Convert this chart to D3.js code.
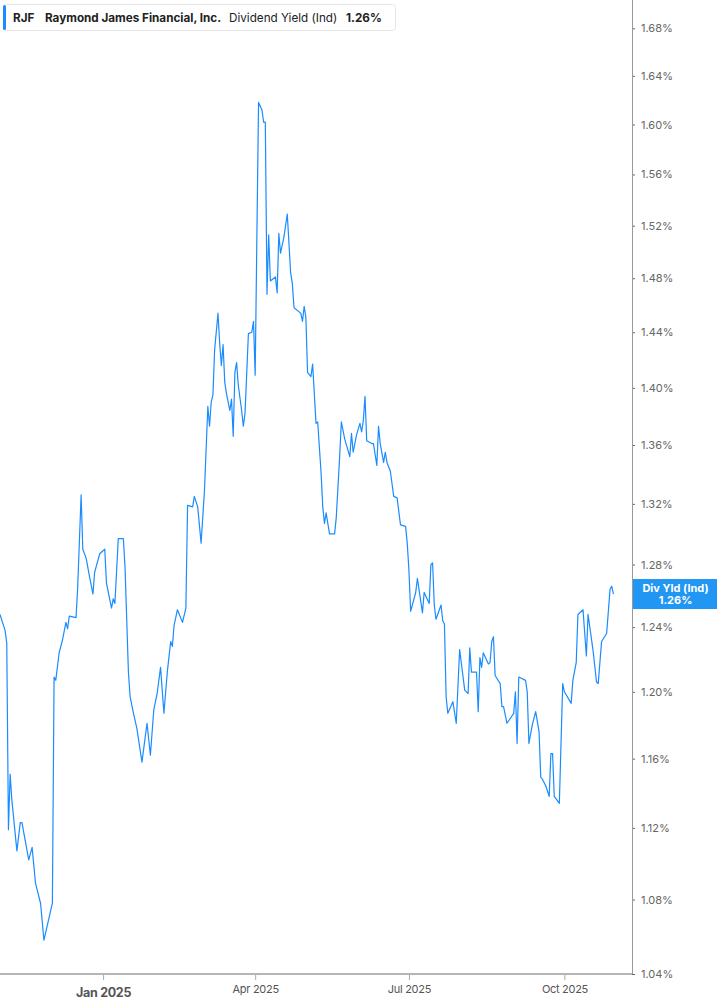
<!DOCTYPE html>
<html><head><meta charset="utf-8">
<script src="https://cdn.jsdelivr.net/npm/d3@7"></script>
<style>
body{margin:0;background:#fff;}
svg{display:block;font-family:Inter,"Noto Sans",sans-serif;}
</style>
</head><body>
<svg id="chart" width="717" height="1005"></svg>
<script>
const dates = [
"2024-11-01","2024-11-04","2024-11-05","2024-11-06","2024-11-07","2024-11-08","2024-11-11","2024-11-13","2024-11-14","2024-11-18",
"2024-11-20","2024-11-22","2024-11-25","2024-11-27","2024-12-02","2024-12-03","2024-12-04","2024-12-06","2024-12-08","2024-12-10",
"2024-12-11","2024-12-12","2024-12-16","2024-12-17","2024-12-19","2024-12-20","2024-12-22","2024-12-24","2024-12-26","2024-12-27",
"2024-12-30","2024-12-31","2025-01-02","2025-01-03","2025-01-06","2025-01-07","2025-01-08","2025-01-10","2025-01-13","2025-01-14",
"2025-01-16","2025-01-17","2025-01-19","2025-01-21","2025-01-24","2025-01-27","2025-01-29","2025-01-31","2025-02-02","2025-02-04",
"2025-02-06","2025-02-08","2025-02-10","2025-02-11","2025-02-12","2025-02-14","2025-02-17","2025-02-19","2025-02-20","2025-02-23",
"2025-02-24","2025-02-26","2025-02-28","2025-03-02","2025-03-04","2025-03-05","2025-03-06","2025-03-07","2025-03-08","2025-03-10",
"2025-03-11","2025-03-12","2025-03-13","2025-03-14","2025-03-15","2025-03-17","2025-03-18","2025-03-19","2025-03-20","2025-03-21",
"2025-03-22","2025-03-24","2025-03-25","2025-03-26","2025-03-28","2025-03-30","2025-03-31","2025-04-01","2025-04-03","2025-04-05",
"2025-04-06","2025-04-07","2025-04-08","2025-04-09","2025-04-10","2025-04-13","2025-04-14","2025-04-15","2025-04-16","2025-04-18",
"2025-04-20","2025-04-22","2025-04-23","2025-04-24","2025-04-27","2025-04-28","2025-04-29","2025-04-30","2025-05-01","2025-05-02",
"2025-05-04","2025-05-05","2025-05-07","2025-05-08","2025-05-10","2025-05-11","2025-05-12","2025-05-13","2025-05-15","2025-05-18",
"2025-05-19","2025-05-21","2025-05-22","2025-05-24","2025-05-27","2025-05-28","2025-05-29","2025-05-31","2025-06-02","2025-06-03",
"2025-06-04","2025-06-05","2025-06-06","2025-06-09","2025-06-10","2025-06-12","2025-06-13","2025-06-14","2025-06-16","2025-06-17",
"2025-06-18","2025-06-20","2025-06-22","2025-06-24","2025-06-26","2025-06-29","2025-06-30","2025-07-01","2025-07-02","2025-07-05",
"2025-07-06","2025-07-09","2025-07-10","2025-07-13","2025-07-14","2025-07-15","2025-07-16","2025-07-17","2025-07-20","2025-07-21",
"2025-07-22","2025-07-23","2025-07-24","2025-07-27","2025-07-29","2025-07-31","2025-08-03","2025-08-05","2025-08-06","2025-08-07",
"2025-08-10","2025-08-11","2025-08-12","2025-08-13","2025-08-14","2025-08-17","2025-08-18","2025-08-19","2025-08-20","2025-08-21",
"2025-08-24","2025-08-25","2025-08-26","2025-08-28","2025-09-01","2025-09-02","2025-09-03","2025-09-04","2025-09-08","2025-09-09",
"2025-09-10","2025-09-12","2025-09-14","2025-09-16","2025-09-17","2025-09-18","2025-09-20","2025-09-22","2025-09-23","2025-09-24",
"2025-09-25","2025-09-28","2025-09-30","2025-10-01","2025-10-05","2025-10-06","2025-10-08","2025-10-09","2025-10-12","2025-10-14",
"2025-10-15","2025-10-18","2025-10-20","2025-10-21","2025-10-23","2025-10-26","2025-10-28","2025-10-29","2025-10-30"
];
const yieldValues = [
1.248,1.238,1.230,1.119,1.151,1.136,1.107,1.123,1.123,1.102,
1.109,1.089,1.078,1.058,1.078,1.209,1.207,1.224,1.232,1.243,
1.239,1.247,1.246,1.266,1.326,1.290,1.284,1.272,1.261,1.275,
1.287,1.288,1.290,1.268,1.252,1.258,1.255,1.297,1.297,1.278,
1.212,1.197,1.187,1.178,1.158,1.181,1.162,1.189,1.199,1.215,
1.187,1.212,1.231,1.228,1.241,1.251,1.243,1.252,1.319,1.318,
1.325,1.318,1.294,1.329,1.387,1.373,1.390,1.395,1.427,1.454,
1.432,1.416,1.431,1.404,1.396,1.384,1.392,1.366,1.411,1.418,
1.402,1.384,1.373,1.382,1.439,1.440,1.448,1.409,1.618,1.612,
1.602,1.602,1.468,1.513,1.478,1.481,1.469,1.514,1.499,1.511,
1.529,1.484,1.476,1.458,1.455,1.454,1.448,1.459,1.451,1.411,
1.408,1.417,1.375,1.376,1.341,1.318,1.307,1.314,1.300,1.300,
1.311,1.352,1.376,1.364,1.352,1.368,1.355,1.367,1.375,1.369,
1.377,1.394,1.363,1.361,1.361,1.346,1.373,1.361,1.348,1.355,
1.348,1.342,1.325,1.324,1.306,1.305,1.294,1.276,1.250,1.262,
1.271,1.249,1.262,1.255,1.280,1.281,1.254,1.245,1.254,1.244,
1.242,1.197,1.187,1.194,1.181,1.226,1.201,1.199,1.227,1.212,
1.212,1.188,1.221,1.215,1.224,1.217,1.218,1.231,1.234,1.210,
1.205,1.191,1.191,1.181,1.187,1.200,1.169,1.209,1.207,1.200,
1.169,1.180,1.188,1.176,1.149,1.148,1.144,1.138,1.163,1.163,
1.138,1.134,1.205,1.200,1.193,1.207,1.218,1.248,1.251,1.222,
1.248,1.225,1.206,1.205,1.231,1.236,1.264,1.266,1.261
];
const yTickValues = [1.04,1.08,1.12,1.16,1.20,1.24,1.28,1.32,1.36,1.40,1.44,1.48,1.52,1.56,1.60,1.64,1.68];
const xTickDates = ["2025-01-01","2025-04-01","2025-07-01","2025-10-01"];
const xTickLabels = ["Jan 2025","Apr 2025","Jul 2025","Oct 2025"];
const xDomain = ["2024-11-01","2025-11-10"];
const ticker = "RJF";
const company = "Raymond James Financial, Inc.";
const metric = "Dividend Yield (Ind)";
const lastValueText = "1.26%";
const badgeTitle = "Div Yld (Ind)";

const parse = d3.timeParse("%Y-%m-%d");
const data = dates.map((d,i)=>({date:parse(d), v:yieldValues[i]}));

const W = 717, H = 1005;
const plotRight = 632, plotBottom = 974;
const lineColor = "#1a8cff";

const svg = d3.select("#chart");

const x = d3.scaleTime().domain(xDomain.map(parse)).range([0, plotRight]);
const y = d3.scaleLog().domain([1.04, 1.68]).range([plotBottom, 28.3]);

svg.append("defs").append("clipPath").attr("id","clip")
  .append("rect").attr("x",0).attr("y",0).attr("width",plotRight).attr("height",plotBottom);

svg.append("path")
  .datum(data)
  .attr("clip-path","url(#clip)")
  .attr("fill","none")
  .attr("stroke",lineColor)
  .attr("stroke-width",1.2)
  .attr("stroke-linejoin","round")
  .attr("d", d3.line().x(d=>x(d.date)).y(d=>y(d.v)));

// right axis
const yAxis = d3.axisRight(y).tickValues(yTickValues).tickFormat(d=>d.toFixed(2)+"%").tickSize(3).tickPadding(6);
const gy = svg.append("g").attr("transform",`translate(${plotRight},0)`).call(yAxis);
gy.select(".domain").remove();
gy.selectAll(".tick line").attr("stroke","#666");
gy.selectAll(".tick text").attr("fill","#666").attr("font-size",11).attr("font-family","Inter, sans-serif");
svg.append("line").attr("x1",plotRight+0.5).attr("x2",plotRight+0.5).attr("y1",0).attr("y2",plotBottom)
  .attr("stroke","#999").attr("stroke-width",1);

// bottom axis
const xAxis = d3.axisBottom(x).tickValues(xTickDates.map(parse)).tickFormat((d,i)=>xTickLabels[i]).tickSize(6).tickPadding(5);
const gx = svg.append("g").attr("transform",`translate(0,${plotBottom})`).call(xAxis);
gx.select(".domain").remove();
gx.selectAll(".tick line").attr("stroke","#aaa");
gx.selectAll(".tick text").attr("fill","#555").attr("font-size",11).attr("font-family","Inter, sans-serif")
  .attr("letter-spacing","-0.3");
gx.selectAll(".tick text").filter((d,i)=>i===0).attr("font-weight","bold").attr("font-size",12.5).attr("dy","0.95em");
svg.append("line").attr("x1",0).attr("x2",plotRight).attr("y1",plotBottom).attr("y2",plotBottom)
  .attr("stroke","#b5b5b5").attr("stroke-width",2);

// last value badge
const lastY = y(yieldValues[yieldValues.length-1]);
const badge = svg.append("g");
badge.append("rect").attr("x",plotRight+1).attr("y",lastY-15).attr("width",W-plotRight-1).attr("height",30)
  .attr("fill","#2196f3");
badge.append("text").attr("x",(plotRight+W)/2+1).attr("y",lastY-2).attr("text-anchor","middle")
  .attr("fill","#fff").attr("font-size",11).attr("font-weight","bold").text(badgeTitle);
badge.append("text").attr("x",(plotRight+W)/2+1).attr("y",lastY+10).attr("text-anchor","middle")
  .attr("fill","#fff").attr("font-size",11).attr("font-weight","bold").text(lastValueText);

// legend
const lg = svg.append("g");
lg.append("rect").attr("x",3.5).attr("y",4.5).attr("width",392).attr("height",26).attr("rx",3)
  .attr("fill","#fff").attr("stroke","#e6e6e6");
lg.append("rect").attr("x",3).attr("y",5).attr("width",3).attr("height",25).attr("rx",1.5).attr("fill",lineColor);
const lt = lg.append("text").attr("x",13).attr("y",21.5).attr("font-size",11.7).attr("fill","#222");
lt.append("tspan").attr("font-weight","bold").text(ticker);
lt.append("tspan").attr("x",45).attr("font-weight","bold").text(company);
lt.append("tspan").attr("x",229).text(metric);
lt.append("tspan").attr("x",346).attr("font-weight","bold").text(lastValueText);
</script>
</body></html>
